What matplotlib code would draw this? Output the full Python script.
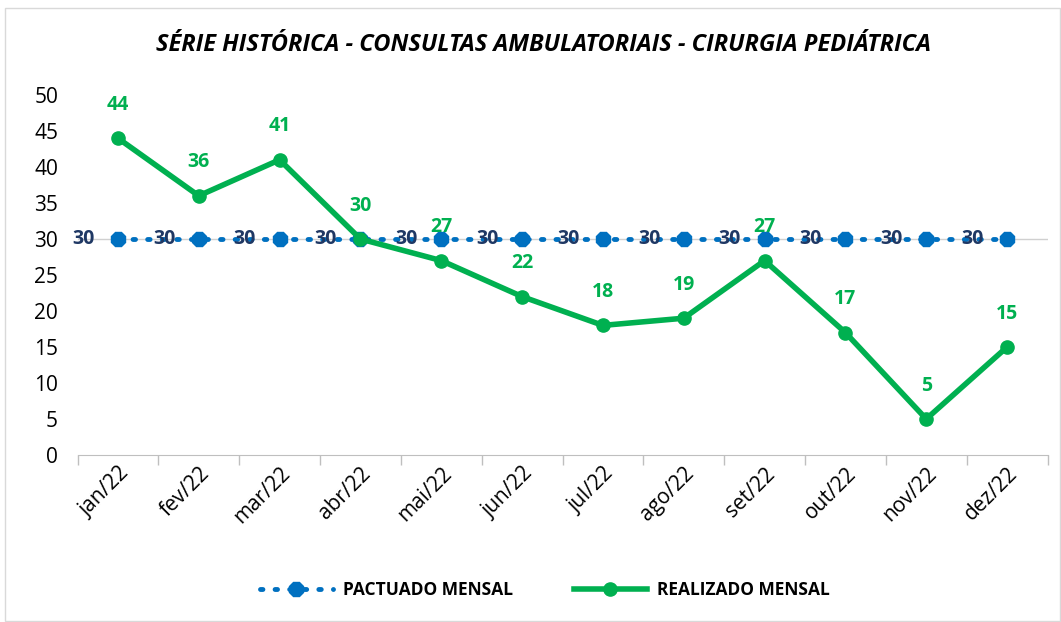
import matplotlib
matplotlib.use("Agg")
import matplotlib.pyplot as plt
from matplotlib.lines import Line2D

months = ["jan/22", "fev/22", "mar/22", "abr/22", "mai/22", "jun/22",
          "jul/22", "ago/22", "set/22", "out/22", "nov/22", "dez/22"]
pactuado = [30, 30, 30, 30, 30, 30, 30, 30, 30, 30, 30, 30]
realizado = [44, 36, 41, 30, 27, 22, 18, 19, 27, 17, 5, 15]

plt.rcParams['font.family'] = ['Open Sans', 'DejaVu Sans']

W, H = 1061, 622
fig = plt.figure(figsize=(W / 100, H / 100), dpi=100)
ax = fig.add_axes([77.5 / W, 1 - 455 / H, (1047.5 - 77.5) / W, (455 - 95) / H])

x = list(range(len(months)))
blue = "#0070C0"
green = "#00B050"
navy = "#1F3864"

ax.axhline(30, color='#D0D0D0', lw=1, zorder=1)
ax.plot(x, pactuado, color=blue, lw=3.5, ls=(0, (0.5, 2.5)), dash_capstyle='round',
        marker='8', markersize=11, markerfacecolor=blue, markeredgecolor=blue, zorder=3)
ax.plot(x, realizado, color=green, lw=4, marker='o', markersize=9.5,
        markerfacecolor=green, markeredgecolor=green, zorder=4)

for xi, v in zip(x, pactuado):
    ax.annotate(str(v), (xi, v), xytext=(-25, 0), textcoords='offset points',
                ha='center', va='center', fontsize=14, fontweight='bold', color=navy, zorder=5)
for xi, v in zip(x, realizado):
    ax.annotate(str(v), (xi, v), xytext=(0, 24), textcoords='offset points',
                ha='center', va='center', fontsize=14, fontweight='bold', color=green, zorder=5)

ax.set_xlim(-0.5, 11.5)
ax.set_ylim(0, 50)
ax.set_yticks(range(0, 51, 5))
ax.set_xticks(x)
ax.set_xticklabels(months, rotation=45, ha='right', rotation_mode='anchor', fontsize=15)
ax.tick_params(axis='y', labelsize=15, length=0, pad=14)
ax.tick_params(axis='x', length=0, pad=6)
ax.set_xticks([i - 0.5 for i in range(13)], minor=True)
ax.tick_params(axis='x', which='minor', length=7, color='#BFBFBF', width=1)
for s in ['top', 'right', 'left']:
    ax.spines[s].set_visible(False)
ax.spines['bottom'].set_color('#BFBFBF')

fig.text(543 / W, 1 - 45 / H, "SÉRIE HISTÓRICA - CONSULTAS AMBULATORIAIS - CIRURGIA PEDIÁTRICA",
         ha='center', va='center', fontsize=17, fontweight='bold', style='italic')

handles = [
    Line2D([], [], color=blue, lw=3.5, ls=(0, (0.5, 2.5)), dash_capstyle='round',
           marker='8', markersize=11, markerfacecolor=blue, markeredgecolor=blue),
    Line2D([], [], color=green, lw=4, marker='o', markersize=9.5,
           markerfacecolor=green, markeredgecolor=green),
]
fig.legend(handles, ["PACTUADO MENSAL", "REALIZADO MENSAL"], loc='center',
           bbox_to_anchor=(545 / W, 1 - 590 / H), ncol=2, frameon=False,
           prop={'weight': 'bold', 'size': 12.5}, handlelength=4.2, columnspacing=3.5,
           handletextpad=0.6)

border = plt.Rectangle((5 / W, 1 / H), 1 - 6 / W, 1 - 9 / H, transform=fig.transFigure,
                       fill=False, edgecolor='#D9D9D9', lw=1)
fig.patches.append(border)

fig.savefig("out.png", dpi=100)
